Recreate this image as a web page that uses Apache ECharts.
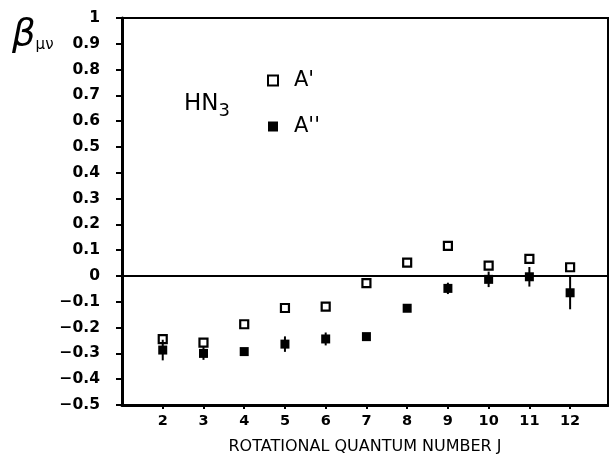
<!DOCTYPE html>
<html>
<head>
<meta charset="utf-8">
<script src="https://cdn.jsdelivr.net/npm/echarts@6/dist/echarts.min.js"></script>
<style>html,body{margin:0;padding:0;background:#fff}#c{width:609px;height:461px}</style>
</head>
<body>
<div id="c"></div>
<script>
const J = [2, 3, 4, 5, 6, 7, 8, 9, 10, 11, 12];
const aPrime = [-0.245, -0.258, -0.187, -0.124, -0.119, -0.028, 0.052, 0.117, 0.040, 0.066, 0.034];
const aDouble = [-0.287, -0.300, -0.293, -0.264, -0.244, -0.235, -0.125, -0.048, -0.013, -0.003, -0.065];
const aDoubleErr = [0.040, 0.025, 0.010, 0.030, 0.025, 0.010, 0.010, 0.022, 0.030, 0.038, 0.064];
const xTicks = [2, 3, 4, 5, 6, 7, 8, 9, 10, 11, 12];

const chart = echarts.init(document.getElementById('c'), null, {renderer: 'canvas'});
const font = 'DejaVu Sans';
function yfmt(v) {
  if (Math.abs(v) < 1e-9) return '0';
  if (Math.abs(v - 1) < 1e-9) return '1';
  return (v < 0 ? '\u2212' : '') + Math.abs(v).toFixed(1);
}
chart.setOption({
  animation: false,
  backgroundColor: '#fff',
  grid: {left: 122, top: 18, right: 1, bottom: 56, show: true, borderColor: '#000', borderWidth: 2, containLabel: false},
  xAxis: {
    type: 'value', min: 1, max: 12.93,
    name: 'ROTATIONAL QUANTUM NUMBER J', nameLocation: 'middle', nameGap: 34,
    nameTextStyle: {fontFamily: font, fontSize: 16, color: '#000'},
    axisLine: {show: true, onZero: false, lineStyle: {color: '#000', width: 3}},
    axisTick: {show: true, customValues: xTicks, length: 4, lineStyle: {color: '#000', width: 2}},
    axisLabel: {customValues: xTicks, margin: 9, fontFamily: font, fontWeight: 'bold', fontSize: 14.5, color: '#000'},
    splitLine: {show: false}
  },
  yAxis: {
    type: 'value', min: -0.5, max: 1, interval: 0.1,
    axisLine: {show: true, lineStyle: {color: '#000', width: 3}},
    axisTick: {show: true, length: 6, lineStyle: {color: '#000', width: 2}},
    axisLabel: {margin: 22, fontFamily: font, fontWeight: 'bold', fontSize: 15.5, color: '#000', formatter: yfmt},
    splitLine: {show: false}
  },
  legend: {
    orient: 'vertical', left: 262, top: 65, itemGap: 25, itemWidth: 10, itemHeight: 10,
    textStyle: {fontFamily: font, fontSize: 21, color: '#000', padding: [0, 0, 0, 11]},
    data: [{name: "A'", icon: 'rect'}, {name: "A''", icon: 'rect'}]
  },
  graphic: [
    {type: 'text', left: 12, top: 17, style: {
      text: '{b|β}{s|μν}',
      rich: {
        b: {fontFamily: font, fontStyle: 'italic', fontSize: 37, fill: '#000'},
        s: {fontFamily: font, fontSize: 15, fill: '#000', padding: [20, 0, 0, 0]}
      }
    }},
    {type: 'text', left: 184, top: 93, style: {
      text: '{m|HN}{s|3}',
      rich: {
        m: {fontFamily: font, fontSize: 23, fill: '#000'},
        s: {fontFamily: font, fontSize: 18, fill: '#000', padding: [14, 0, 0, 0]}
      }
    }}
  ],
  series: [
    {
      name: 'zero', type: 'line', data: [], silent: true,
      markLine: {silent: true, symbol: 'none', label: {show: false},
        lineStyle: {color: '#000', width: 2, type: 'solid'}, data: [{yAxis: 0}]}
    },
    {
      name: "A'", type: 'scatter', symbol: 'rect', symbolSize: 8,
      itemStyle: {color: '#fff', borderColor: '#000', borderWidth: 2.2, opacity: 1},
      data: J.map((j, i) => [j, aPrime[i]]), z: 3
    },
    {
      name: 'err', type: 'custom', z: 4,
      renderItem: function (params, api) {
        const x = api.value(0), y = api.value(1), e = api.value(2);
        const p1 = api.coord([x, y + e]), p2 = api.coord([x, y - e]);
        return {type: 'line', shape: {x1: p1[0], y1: p1[1], x2: p2[0], y2: p2[1]}, style: {stroke: '#000', lineWidth: 2}};
      },
      data: J.map((j, i) => [j, aDouble[i], aDoubleErr[i]])
    },
    {
      name: "A''", type: 'scatter', symbol: 'rect', symbolSize: 9, z: 5,
      itemStyle: {color: '#000', opacity: 1},
      data: J.map((j, i) => [j, aDouble[i]])
    }
  ]
});
</script>
</body>
</html>
